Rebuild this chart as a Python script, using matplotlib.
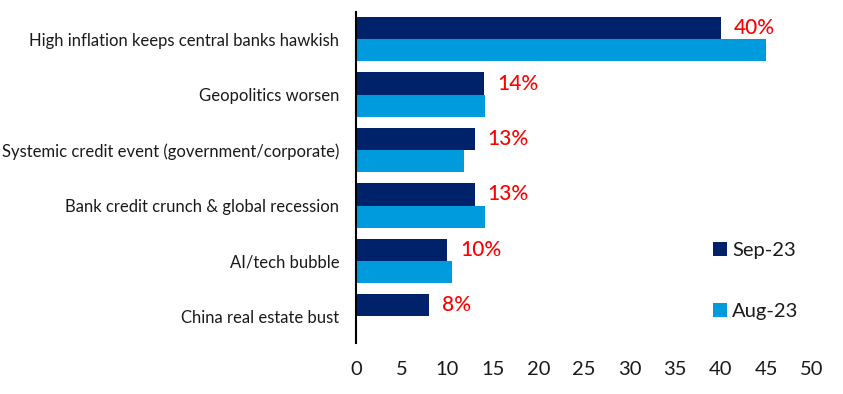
"""Horizontal bar chart: biggest tail risks, Sep-23 vs Aug-23."""

import matplotlib
matplotlib.use("Agg")
import matplotlib.pyplot as plt
import numpy as np

categories = [
    "High inflation keeps central banks hawkish",
    "Geopolitics worsen",
    "Systemic credit event (government/corporate)",
    "Bank credit crunch & global recession",
    "AI/tech bubble",
    "China real estate bust",
]
sep_23 = [40, 14, 13, 13, 10, 8]
aug_23 = [45, 14.2, 11.9, 14.2, 10.5, np.nan]
sep_labels = ["40%", "14%", "13%", "13%", "10%", "8%"]
xticks = [0, 5, 10, 15, 20, 25, 30, 35, 40, 45, 50]

NAVY = "#00226A"
LIGHT = "#009BDD"

plt.rcParams["font.family"] = ["Lato", "DejaVu Sans"]

fig = plt.figure(figsize=(8.43, 3.94), dpi=100)
ax = fig.add_axes([0.4223, 0.1294, 0.5407, 0.8401])

y = np.arange(len(categories))
h = 0.4
ax.barh(y - h / 2, sep_23, height=h, color=NAVY, label="Sep-23")
ax.barh(y + h / 2, aug_23, height=h, color=LIGHT, label="Aug-23")

for yi, v, lab in zip(y, sep_23, sep_labels):
    ax.annotate(lab, (v, yi - h / 2), xytext=(9.5, 0), textcoords="offset points",
                va="center", ha="left", color="#FF0000", fontsize=15,
                fontweight="medium")

ax.set_xlim(0, 50)
ax.set_ylim(len(categories) - 0.52, -0.49)
ax.set_xticks(xticks)
ax.set_yticks(y)
ax.set_yticklabels(categories, fontsize=12, color="#1a1a1a")
ax.tick_params(axis="x", length=0, labelsize=14.5, pad=13, labelcolor="#1a1a1a")
ax.tick_params(axis="y", length=0, pad=12)
for s in ["top", "right", "bottom"]:
    ax.spines[s].set_visible(False)
ax.spines["left"].set_linewidth(1.5)
ax.spines["left"].set_color("black")

ax.legend(loc="upper left", bbox_to_anchor=(0.765, 0.33), frameon=False,
          fontsize=14.5, handlelength=0.7, handleheight=0.7, handletextpad=0.25,
          labelspacing=2.2, borderaxespad=0, labelcolor="#1a1a1a")

fig.savefig("out.png", dpi=100)
